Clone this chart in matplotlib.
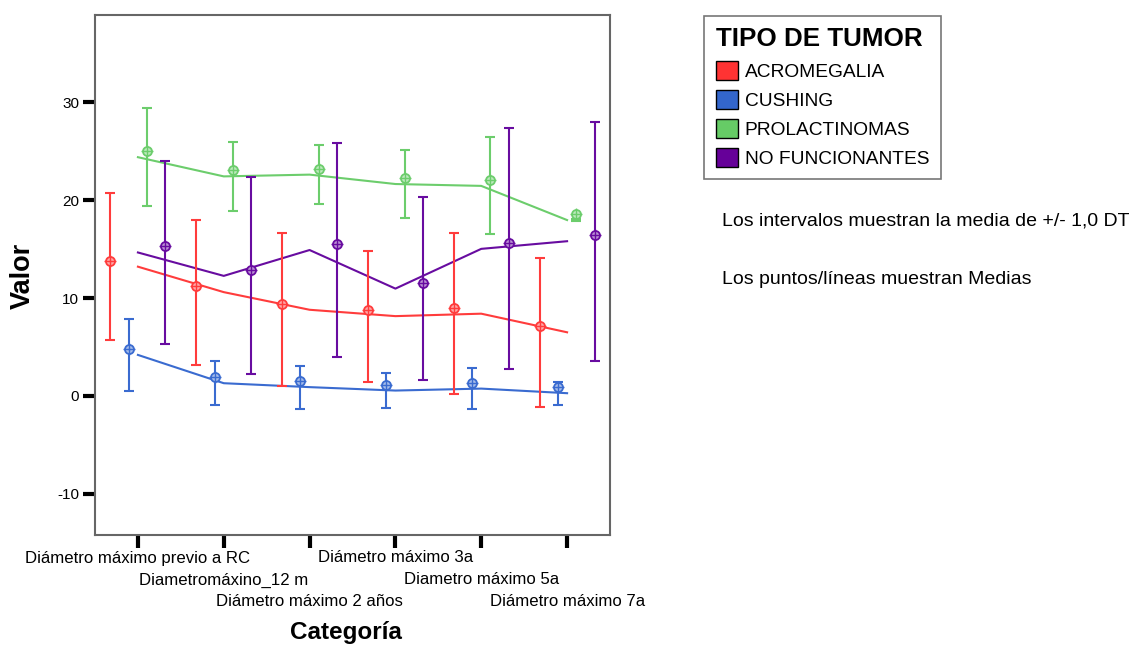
import matplotlib
matplotlib.use("Agg")
import matplotlib.pyplot as plt
from matplotlib.patches import Patch
from matplotlib.transforms import offset_copy
from matplotlib.colors import to_rgb
import numpy as np

plt.rcParams['font.family'] = ['Liberation Sans', 'DejaVu Sans']

categories = ["Diámetro máximo previo a RC", "Diametromáxino_12 m",
              "Diámetro máximo 2 años", "Diámetro máximo 3a",
              "Diametro máximo 5a", "Diámetro máximo 7a"]
series = ["ACROMEGALIA", "CUSHING", "PROLACTINOMAS", "NO FUNCIONANTES"]

acro_mean = [13.2, 10.6, 8.8, 8.15, 8.4, 6.5]
acro_sd = [7.5, 7.4, 7.8, 6.7, 8.25, 7.6]
cush_mean = [4.19, 1.3, 0.9, 0.55, 0.75, 0.28]
cush_sd = [3.67, 2.26, 2.2, 1.77, 2.13, 1.17]
prol_mean = [24.38, 22.42, 22.6, 21.64, 21.45, 17.96]
prol_sd = [4.98, 3.55, 3.05, 3.45, 4.95, 0.1]
nof_mean = [14.65, 12.26, 14.9, 10.96, 15.02, 15.8]
nof_sd = [9.35, 10.05, 10.95, 9.33, 12.29, 12.2]

y_ticks = [-10, 0, 10, 20, 30]

means = [acro_mean, cush_mean, prol_mean, nof_mean]
sds = [acro_sd, cush_sd, prol_sd, nof_sd]
line_colors = ["#ff3c3c", "#3a6bd0", "#6ccd6c", "#680ca0"]
patch_colors = ["#ff3333", "#3366cc", "#66cc66", "#660099"]
offsets = [-0.32, -0.107, 0.107, 0.32]

fig = plt.figure(figsize=(11.36, 6.46), dpi=100)
ax = fig.add_axes([95/1136, 1-535/646, (610-95)/1136, (535-15)/646])

x = np.arange(len(categories))
marker_tr = offset_copy(ax.transData, fig, y=6, units='dots')
for m, s, c, off in zip(means, sds, line_colors, offsets):
    m = np.array(m); s = np.array(s)
    light = tuple(0.55 + 0.45 * v for v in to_rgb(c))
    ax.plot(x, m, color=c, lw=1.5, zorder=2)
    ax.errorbar(x + off, m, yerr=s, fmt='none', ecolor=c, elinewidth=1.5,
                capsize=3.5, capthick=1.5, zorder=3)
    ax.plot(x + off, m, linestyle='none', marker='o', markersize=6.5,
            markerfacecolor=light, markeredgecolor=c, markeredgewidth=1.3,
            transform=marker_tr, zorder=4)
    ax.plot(x + off, m, linestyle='none', marker='+', markersize=9,
            markeredgecolor=c, markeredgewidth=1.0, transform=marker_tr, zorder=5)

ax.set_xlim(-0.5, 5.5)
ax.set_ylim(-14.2, 38.9)
ax.set_yticks(y_ticks)
ax.set_yticklabels([str(t) for t in y_ticks], fontsize=11)
ax.set_xticks(x)
ax.set_xticklabels([])
ax.tick_params(axis='both', direction='out', length=9, width=3, color='black')
ax.tick_params(axis='y', pad=2.5)
for sp in ax.spines.values():
    sp.set_color('#666666')
    sp.set_linewidth(1.5)

row_off = [23, 45, 67]
for i, lab in enumerate(categories):
    tr = offset_copy(ax.get_xaxis_transform(), fig, y=-row_off[i % 3], units='dots')
    ax.text(i, 0, lab, transform=tr, ha='center', va='center', fontsize=12.1)

fig.text(346/1136, 1-632/646, "Categoría", ha='center', va='center',
         fontsize=17.5, fontweight='bold')
fig.text(23/1136, 1-276/646, "Valor", ha='center', va='center',
         fontsize=19.5, fontweight='bold', rotation=90)

handles = [Patch(facecolor=c, edgecolor='black', linewidth=1.0) for c in patch_colors]
leg = fig.legend(handles, series, loc='upper left',
                 bbox_to_anchor=(704/1136, 1-16/646), fontsize=13.8,
                 title="TIPO DE TUMOR", title_fontproperties={'weight': 'bold', 'size': 18.7},
                 alignment='left', frameon=True, fancybox=False,
                 handlelength=1.15, handleheight=1.15, handletextpad=0.37,
                 labelspacing=0.47, borderpad=0.6, borderaxespad=0)
leg.get_frame().set_edgecolor('#555555')
leg.get_frame().set_linewidth(1.2)

fig.text(722/1136, 1-221/646, "Los intervalos muestran la media de +/- 1,0 DT",
         ha='left', va='center', fontsize=14)
fig.text(722/1136, 1-280/646, "Los puntos/líneas muestran Medias",
         ha='left', va='center', fontsize=14)

fig.savefig("out.png", dpi=100)
